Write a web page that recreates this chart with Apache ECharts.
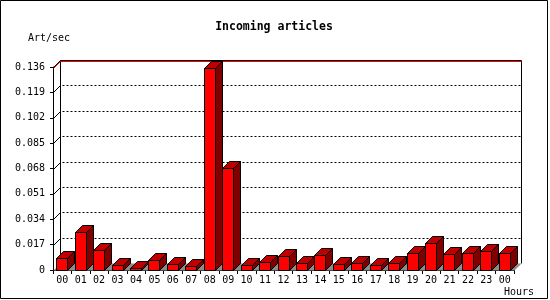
<!DOCTYPE html>
<html><head><meta charset="utf-8">
<script src="https://cdn.jsdelivr.net/npm/echarts@6/dist/echarts.min.js"></script>
<style>html,body{margin:0;padding:0;background:#fff}#c{width:550px;height:300px}</style>
</head><body><div id="c"></div>
<script>
const hours = ['00','01','02','03','04','05','06','07','08','09','10','11','12','13','14','15','16','17','18','19','20','21','22','23','00'];
const rate = [0.0078,0.0257,0.0132,0.0031,0.0016,0.0065,0.0038,0.0025,0.1351,0.0681,0.0031,0.0056,0.0092,0.0045,0.0100,0.0038,0.0045,0.0031,0.0045,0.0112,0.0179,0.0107,0.0112,0.0125,0.0112];
const yTicks = [0,0.017,0.034,0.051,0.068,0.085,0.102,0.119,0.136];
const titleText = 'Incoming articles';
const yName = 'Art/sec';
const xName = 'Hours';

const FONT = '"DejaVu Sans Mono", "Liberation Mono", monospace';
const D = 7; // 3D depth
const px = v => Math.round(v) + 0.5;

function renderWall(params, api) {
  const cs = params.coordSys;
  const x0 = px(cs.x), x1 = px(cs.x + cs.width);
  const t = api.value(1);
  const y = px(api.coord([0, t])[1]);
  const children = [];
  const isTop = params.dataIndex === yTicks.length - 1;
  if (params.dataIndex === 0) {
    const yb = px(cs.y + cs.height);
    const yt = px(cs.y);
    // floor
    children.push({type:'polygon', shape:{points:[[x0,yb],[x1,yb],[x1+D,yb-D],[x0+D,yb-D]]}, style:{fill:'#8c8c8c', stroke:null}, z2:1});
    // back wall left & right edges
    children.push({type:'line', shape:{x1:x0+D,y1:yt-D,x2:x0+D,y2:yb-D}, style:{stroke:'#000', lineWidth:1}, z2:2});
    children.push({type:'line', shape:{x1:x1+D,y1:yt-D,x2:x1+D,y2:yb-D}, style:{stroke:'#000', lineWidth:1}, z2:2});
  } else if (isTop) {
    children.push({type:'polyline', shape:{points:[[x0,y+1],[x0+D,y-D+1],[x1+D,y-D+1]]}, style:{stroke:'#ff0000', lineWidth:1, fill:null}, z2:3});
    children.push({type:'polyline', shape:{points:[[x0,y],[x0+D,y-D],[x1+D,y-D]]}, style:{stroke:'#000', lineWidth:1, fill:null}, z2:4});
  } else {
    children.push({type:'line', shape:{x1:x0,y1:y,x2:x0+D,y2:y-D}, style:{stroke:'#000', lineWidth:1}, z2:2});
    children.push({type:'line', shape:{x1:x0+D+2,y1:y-D,x2:x1+D,y2:y-D}, style:{stroke:'#000', lineWidth:1, lineDash:[2,2]}, z2:2});
  }
  return {type:'group', children};
}

function renderBar(params, api) {
  const p = api.coord([api.value(0), api.value(1)]);
  const b = api.coord([api.value(0), 0]);
  const L = px(p[0] - 6), R = L + 11;
  const T = px(p[1]), B = px(b[1]);
  const st = {stroke:'#000', lineWidth:1};
  return {type:'group', children:[
    {type:'polygon', shape:{points:[[R,T],[R+D,T-D],[R+D,B-D],[R,B]]}, style:Object.assign({fill:'#800000'}, st)},
    {type:'polygon', shape:{points:[[L,T],[R,T],[R+D,T-D],[L+D,T-D]]}, style:Object.assign({fill:'#c00000'}, st)},
    {type:'rect', shape:{x:L, y:T, width:R-L, height:B-T}, style:Object.assign({fill:'#ff0000'}, st)}
  ]};
}

const chart = echarts.init(document.getElementById('c'), null, {renderer:'canvas'});
chart.setOption({
  animation: false,
  backgroundColor: '#fff',
  grid: {left: 53, top: 67, width: 461, height: 203, containLabel: false},
  xAxis: {
    type: 'category', data: hours, boundaryGap: true,
    axisLine: {show: true, lineStyle: {color: '#000', width: 1}},
    axisTick: {show: true, length: 4, lineStyle: {color: '#000'}},
    axisLabel: {color: '#000', fontFamily: FONT, fontSize: 10, margin: 5, interval: 0},
    splitLine: {show: false}
  },
  yAxis: {
    type: 'value', min: 0, max: 0.136, interval: 0.017,
    axisLine: {show: true, lineStyle: {color: '#000', width: 1}},
    axisTick: {show: true, length: 3, lineStyle: {color: '#000'}},
    axisLabel: {color: '#000', fontFamily: FONT, fontSize: 10, margin: 8,
      formatter: v => v === 0 ? '0' : v.toFixed(3)},
    splitLine: {show: false}
  },
  series: [
    {type: 'custom', renderItem: renderWall, data: yTicks.map(t => [0, t]), z: 1, silent: true, clip: false},
    {type: 'custom', renderItem: renderBar, data: rate.map((v, i) => [i, v]), encode: {x: 0, y: 1}, z: 3, silent: true, clip: false}
  ],
  graphic: [
    {type: 'rect', shape: {x: 0.5, y: 0.5, width: 547, height: 298}, style: {fill: null, stroke: '#000', lineWidth: 1}, silent: true},
    {type: 'text', x: 274, y: 27, style: {text: titleText, font: 'bold 11.5px ' + FONT, fill: '#000', align: 'center', verticalAlign: 'middle'}},
    {type: 'text', x: 28, y: 38, style: {text: yName, font: '10px ' + FONT, fill: '#000', align: 'left', verticalAlign: 'middle'}},
    {type: 'text', x: 504, y: 292, style: {text: xName, font: '10px ' + FONT, fill: '#000', align: 'left', verticalAlign: 'middle'}}
  ]
});
</script></body></html>
